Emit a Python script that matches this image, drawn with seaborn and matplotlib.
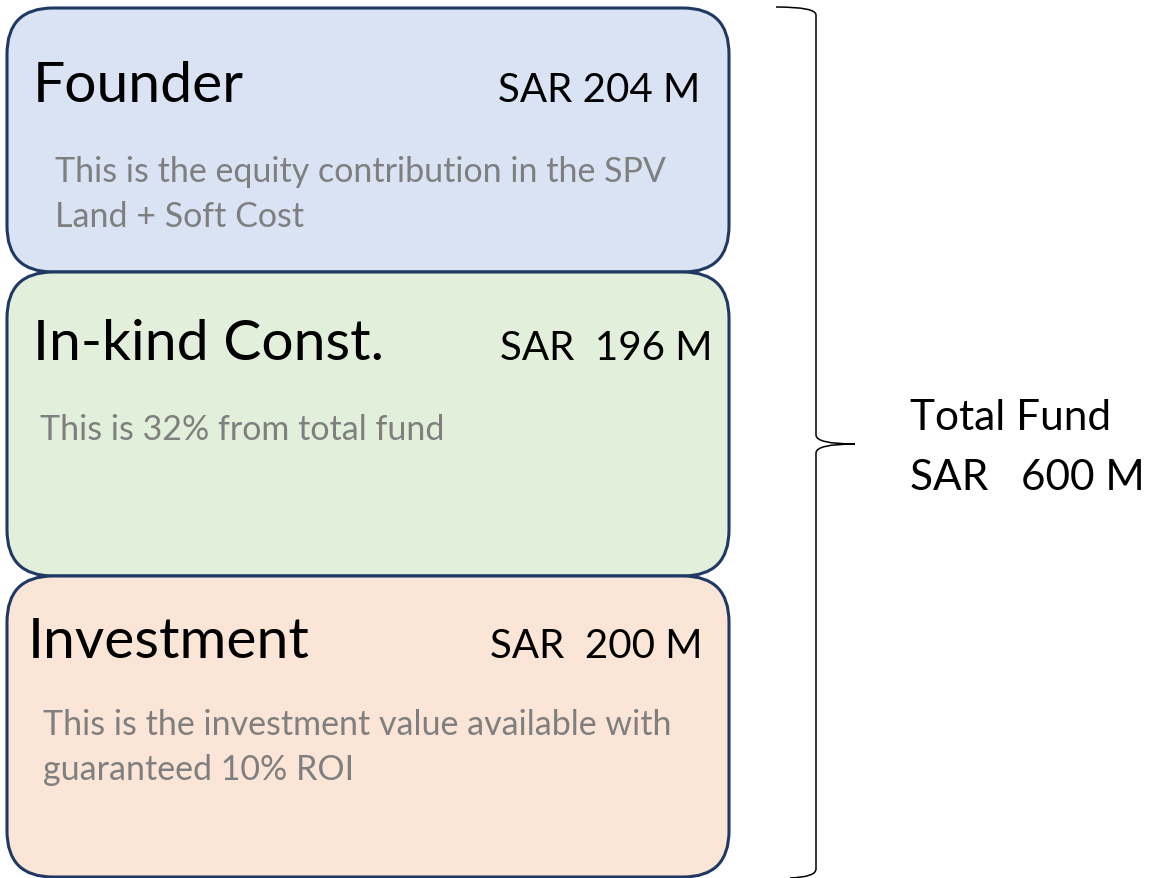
import matplotlib
matplotlib.use("Agg")
import matplotlib.pyplot as plt
import seaborn as sns
from matplotlib.patches import FancyBboxPatch, PathPatch
from matplotlib.path import Path

# chart data
categories = ["Founder", "In-kind Const.", "Investment"]
amounts = [204, 196, 200]
amount_gap = [" ", "  ", "  "]
notes = [
    ["This is the equity contribution in the SPV", "Land + Soft Cost"],
    ["This is 32% from total fund"],
    ["This is the investment value available with", "guaranteed 10% ROI"],
]
fills = ["#DAE3F3", "#E2EFDA", "#FBE5D6"]
total_label = "Total Fund"

# layout in pixels (figure is 1157 x 879)
box_top = [9, 273, 577]
box_bottom = [273, 577, 878]
title_xy = [(33, 102), (33, 360), (28, 658)]
amount_xy = [(700, 102), (712, 360), (702, 658)]
note_xy = [(55, 182), (40, 440), (43, 735)]
note_step = 45

sns.set_theme(style="white")
plt.rcParams["font.family"] = ["Lato", "DejaVu Sans"]

fig = plt.figure(figsize=(11.57, 8.79), dpi=100)
ax = fig.add_axes([0, 0, 1, 1])
ax.set_xlim(0, 1157)
ax.set_ylim(879, 0)
ax.axis("off")

edge = "#1F3864"
for i, cat in enumerate(categories):
    h = box_bottom[i] - box_top[i]
    ax.add_patch(FancyBboxPatch((7, box_top[i]), 722, h,
                                boxstyle="round,pad=0,rounding_size=46",
                                facecolor=fills[i], edgecolor=edge,
                                linewidth=2.2, zorder=i + 1))
    ax.text(*title_xy[i], cat, fontsize=41, color="black",
            ha="left", va="baseline", zorder=10)
    ax.text(*amount_xy[i], f"SAR{amount_gap[i]}{amounts[i]} M", fontsize=29,
            color="black", ha="right", va="baseline", zorder=10)
    nx, ny = note_xy[i]
    for k, line in enumerate(notes[i]):
        ax.text(nx, ny + k * note_step, line, fontsize=24.5, color="#7F7F7F",
                ha="left", va="baseline", zorder=10)

# right-hand brace
verts = [(776, 8), (816, 8), (816, 16),
         (816, 436),
         (816, 445), (855, 445),
         (816, 445), (816, 454),
         (816, 870),
         (816, 878), (790, 879)]
codes = [Path.MOVETO, Path.CURVE3, Path.CURVE3,
         Path.LINETO,
         Path.CURVE3, Path.CURVE3,
         Path.CURVE3, Path.CURVE3,
         Path.LINETO,
         Path.CURVE3, Path.CURVE3]
ax.add_patch(PathPatch(Path(verts, codes), facecolor="none",
                       edgecolor="black", linewidth=1.1))

ax.text(910, 430, total_label, fontsize=30.5, color="black",
        ha="left", va="baseline")
ax.text(910, 490, f"SAR   {sum(amounts)} M", fontsize=30.5, color="black",
        ha="left", va="baseline")

fig.savefig("out.png", dpi=100, facecolor="white")
